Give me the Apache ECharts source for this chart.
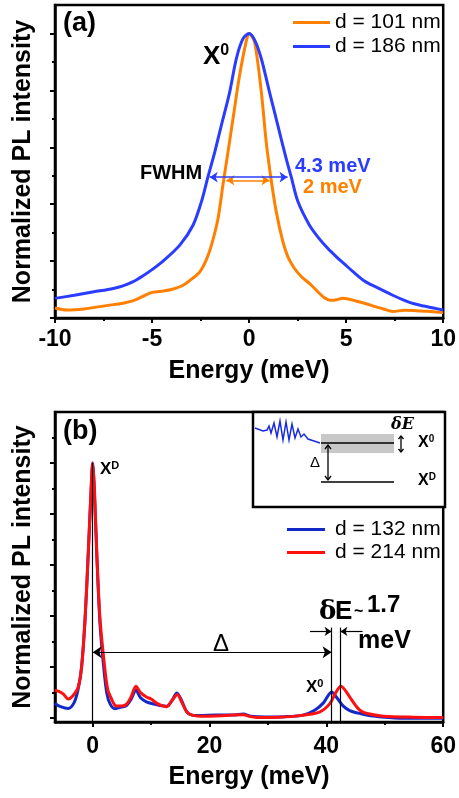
<!DOCTYPE html>
<html>
<head>
<meta charset="utf-8">
<script src="https://cdn.jsdelivr.net/npm/echarts@6/dist/echarts.min.js"></script>
<style>
html,body{margin:0;padding:0;background:#fff;}
#main{width:459px;height:798px;}
</style>
</head>
<body>
<div id="main"></div>
<script>
// panel (a): energy (meV) / normalized intensity
var energyA101 = [-10,-9.4,-8.5,-7.7,-7,-6.5,-6,-5.5,-5,-4.4,-4,-3.4,-2.9,-2.54,-2.2,-1.94,-1.6,-1.35,-1.14,-0.83,-0.49,-0.14,0,0.28,0.63,0.88,1.14,1.4,1.74,2.0,2.34,2.7,3.2,3.6,3.9,4.2,4.5,4.8,5.1,5.5,5.94,6.5,7,7.4,8,8.5,9,9.5,10];
var valueA101  = [0.035,0.028,0.032,0.04,0.047,0.052,0.06,0.075,0.09,0.095,0.10,0.115,0.14,0.162,0.205,0.256,0.35,0.467,0.56,0.70,0.853,0.975,1.0,0.97,0.794,0.619,0.484,0.373,0.268,0.215,0.174,0.145,0.116,0.088,0.07,0.062,0.064,0.069,0.067,0.06,0.052,0.04,0.03,0.023,0.027,0.026,0.024,0.022,0.019];
var energyA186 = [-10,-9,-8,-7,-6.5,-6,-5.5,-5,-4.43,-3.57,-2.89,-2.46,-2.12,-1.77,-1.43,-1.0,-0.66,-0.32,0,0.3,0.63,1.05,1.48,1.91,2.17,2.51,3.11,3.6,4.05,4.5,4.91,5.4,5.94,6.5,7.4,8,8.5,9,9.5,10];
var valueA186  = [0.069,0.08,0.092,0.104,0.113,0.127,0.147,0.17,0.2,0.256,0.326,0.408,0.496,0.583,0.677,0.794,0.911,0.981,1.0,0.975,0.911,0.794,0.677,0.56,0.496,0.41,0.326,0.28,0.245,0.215,0.19,0.16,0.13,0.11,0.08,0.062,0.05,0.042,0.035,0.028];

// panel (b)
var energyB132 = [-6.45,-5.5,-4.2,-3.2,-2.5,-1.9,-1.3,-0.75,-0.3,0,0.3,0.7,1.25,1.8,2.4,3.0,3.8,4.6,5.8,6.6,7.4,8.2,9.2,10.5,11.5,12.7,13.6,14.4,15.2,16.1,17,18.4,21,24,25.8,27,29.5,33,36,38,39.5,40.9,41.8,42.9,44,45.8,48,52.6,56,60];
var valueB132  = [0.057,0.045,0.038,0.06,0.113,0.2,0.39,0.65,0.88,1.0,0.88,0.64,0.37,0.22,0.1,0.055,0.037,0.042,0.05,0.075,0.11,0.08,0.064,0.055,0.05,0.047,0.07,0.099,0.07,0.025,0.012,0.01,0.012,0.012,0.016,0.008,0.005,0.006,0.012,0.031,0.06,0.103,0.08,0.047,0.03,0.018,0.008,0.0,0.0,0.0];
var energyB214 = [-6.45,-5.8,-5,-4.2,-3.5,-2.5,-1.9,-1.3,-0.75,-0.3,0,0.3,0.7,1.25,2.1,2.6,3.25,3.8,4.1,5,5.8,6.6,7.4,8.2,9.2,10,11,12,12.7,13.6,14.5,15.3,16.1,17,18.4,21,24,25.8,27,28,32,35.5,38.9,40.6,41.6,42.5,43.2,44,45,45.8,47,49.7,55,60];
var valueB214  = [0.11,0.105,0.094,0.075,0.085,0.12,0.2,0.39,0.65,0.88,1.0,0.9,0.65,0.39,0.19,0.11,0.074,0.05,0.048,0.048,0.055,0.085,0.125,0.1,0.083,0.075,0.058,0.048,0.045,0.07,0.093,0.06,0.025,0.012,0.008,0.009,0.012,0.013,0.006,0.003,0.004,0.01,0.025,0.057,0.1,0.125,0.11,0.083,0.05,0.03,0.018,0.008,0.004,0.003];

var namesA = ['d = 101 nm','d = 186 nm'];
var namesB = ['d = 132 nm','d = 214 nm'];
var ticksAxMajor = [0,0.2,0.4,0.6,0.8,1.0];
var ticksAxMinor = [0.1,0.3,0.5,0.7,0.9];
var ticksByMajor = [0,0.2,0.4,0.6,0.8,1.0];
var ticksByMinor = [0.1,0.3,0.5,0.7,0.9,1.1];
var ticksBxMajor = [0,20,40,60];
var ticksBxMinor = [10,30,50];

var FONT = 'Liberation Sans, Arial, sans-serif';
var SERIF = 'DejaVu Serif, Liberation Serif, serif';

function zip(xs, ys){
    var out=[];
    for(var i=0;i<xs.length;i++){ out.push([xs[i], ys[i]]); }
    return out;
}

var chart = echarts.init(document.getElementById('main'), null, {renderer:'canvas'});

var axisLabelStyle = {fontFamily:FONT, fontWeight:'bold', fontSize:23, color:'#000'};
var nameStyle = {fontFamily:FONT, fontWeight:'bold', fontSize:25, color:'#000'};
var lineAx = {onZero:false, lineStyle:{color:'#000', width:2.5}};
var tickLine = {color:'#000', width:2};

function yMajor(grid, min, max, major){
    return {
        gridIndex:grid, type:'value', min:min, max:max, position:'left',
        name:'Normalized PL intensity', nameLocation:'middle', nameGap:19, nameRotate:90,
        nameTextStyle:nameStyle,
        axisLine:lineAx, splitLine:{show:false},
        axisTick:{show:true, length:5, lineStyle:tickLine, customValues:major},
        axisLabel:{show:false}
    };
}
function yMinor(grid, min, max, minor){
    return {
        gridIndex:grid, type:'value', min:min, max:max, position:'left',
        axisLine:{show:false, onZero:false}, splitLine:{show:false},
        axisTick:{show:true, length:3, lineStyle:tickLine, customValues:minor},
        axisLabel:{show:false}
    };
}
// superscript label, e.g. X^0
function supText(left, top, base, sup, size){
    return {type:'text', left:left, top:top, style:{text:'{b|'+base+'}{s|'+sup+'}', rich:{
        b:{font:'bold '+size+'px '+FONT, fill:'#000'},
        s:{font:'bold '+Math.round(size*0.62)+'px '+FONT, fill:'#000', padding:[0,0,Math.round(size*0.42),0]}}}};
}

var option = {
    animation:false,
    backgroundColor:'#fff',
    grid:[
        {left:55, right:14, top:5, bottom:480, show:true, borderColor:'#000', borderWidth:2.5},
        {left:55, right:14, top:412, bottom:76, show:true, borderColor:'#000', borderWidth:2.5}
    ],
    legend:[
        {data:namesA, orient:'vertical', left:293, top:12, padding:0, itemWidth:37, itemHeight:3, icon:'rect', itemGap:3,
         textStyle:{fontFamily:FONT, fontSize:21, color:'#000'}},
        {data:namesB, orient:'vertical', left:287, top:519, padding:0, itemWidth:38, itemHeight:3, icon:'rect', itemGap:2,
         textStyle:{fontFamily:FONT, fontSize:21, color:'#000', padding:[0,0,0,5]}}
    ],
    xAxis:[
        {gridIndex:0, type:'value', min:-10, max:10, interval:5,
         name:'Energy (meV)', nameLocation:'middle', nameGap:41, nameTextStyle:nameStyle,
         axisLine:lineAx, splitLine:{show:false},
         axisTick:{length:5, lineStyle:tickLine},
         minorTick:{show:true, splitNumber:2, length:3, lineStyle:tickLine},
         axisLabel:Object.assign({margin:10}, axisLabelStyle)},
        {gridIndex:1, type:'value', min:-6.45, max:60,
         name:'Energy (meV)', nameLocation:'middle', nameGap:43, nameTextStyle:nameStyle,
         axisLine:lineAx, splitLine:{show:false},
         axisTick:{length:5, lineStyle:tickLine, customValues:ticksBxMajor},
         axisLabel:Object.assign({customValues:ticksBxMajor, margin:13}, axisLabelStyle)},
        {gridIndex:1, type:'value', min:-6.45, max:60, position:'bottom',
         axisLine:{show:false, onZero:false}, splitLine:{show:false},
         axisTick:{length:3, lineStyle:tickLine, customValues:ticksBxMinor},
         axisLabel:{show:false}}
    ],
    yAxis:[
        yMajor(0, 0, 1.1, ticksAxMajor),
        yMinor(0, 0, 1.1, ticksAxMinor),
        yMajor(1, -0.015, 1.2, ticksByMajor),
        yMinor(1, -0.015, 1.2, ticksByMinor)
    ],
    series:[
        {name:namesA[0], type:'line', xAxisIndex:0, yAxisIndex:0, data:zip(energyA101, valueA101),
         smooth:0.3, showSymbol:false, color:'#ff8000', lineStyle:{width:3},
         markLine:{silent:true, label:{show:false}, lineStyle:{color:'#ff8000', width:1.5, type:'solid'},
            data:[[{coord:[-1.17,0.484], symbol:'arrow', symbolSize:8},{coord:[1.05,0.484], symbol:'arrow', symbolSize:8}]]}},
        {name:namesA[1], type:'line', xAxisIndex:0, yAxisIndex:0, data:zip(energyA186, valueA186),
         smooth:0.3, showSymbol:false, color:'#2a3cff', lineStyle:{width:3},
         markLine:{silent:true, label:{show:false}, lineStyle:{color:'#2a3cff', width:1.5, type:'solid'},
            data:[[{coord:[-2.03,0.495], symbol:'arrow', symbolSize:8},{coord:[1.98,0.495], symbol:'arrow', symbolSize:8}]]}},
        {name:namesB[0], type:'line', xAxisIndex:1, yAxisIndex:2, data:zip(energyB132, valueB132),
         smooth:0.3, showSymbol:false, color:'#1428c8', lineStyle:{width:3}},
        {name:namesB[1], type:'line', xAxisIndex:1, yAxisIndex:2, data:zip(energyB214, valueB214),
         smooth:0.3, showSymbol:false, color:'#ff1010', lineStyle:{width:3},
         markLine:{silent:true, label:{show:false}, lineStyle:{color:'#000', width:1.2, type:'solid'},
            data:[
                [{coord:[0,1.0], symbol:'none'},{coord:[0,-0.015], symbol:'none'}],
                [{coord:[40.9,0.355], symbol:'none'},{coord:[40.9,-0.015], symbol:'none'}],
                [{coord:[42.4,0.355], symbol:'none'},{coord:[42.4,-0.015], symbol:'none'}],
                [{coord:[0,0.258], symbol:'arrow', symbolSize:9},{coord:[40.9,0.258], symbol:'arrow', symbolSize:9}],
                [{coord:[37.2,0.34], symbol:'none'},{coord:[40.9,0.34], symbol:'arrow', symbolSize:7}],
                [{coord:[46.2,0.34], symbol:'none'},{coord:[42.4,0.34], symbol:'arrow', symbolSize:7}]
            ]}}
    ],
    graphic:[
        // panel (a) annotations
        {type:'text', left:63, top:10, style:{text:'(a)', font:'bold 27px '+FONT, fill:'#000'}},
        supText(203, 43, 'X', '0', 26),
        {type:'text', left:140, top:163, style:{text:'FWHM', font:'bold 20px '+FONT, fill:'#000'}},
        {type:'text', left:295, top:156, style:{text:'4.3 meV', font:'bold 20px '+FONT, fill:'#2a3cff'}},
        {type:'text', left:303, top:177, style:{text:'2 meV', font:'bold 20px '+FONT, fill:'#ff8000'}},
        // panel (b) annotations
        {type:'text', left:63, top:418, style:{text:'(b)', font:'bold 27px '+FONT, fill:'#000'}},
        supText(100, 460, 'X', 'D', 17),
        {type:'text', left:213, top:632, style:{text:'Δ', font:'24px '+FONT, fill:'#000'}},
        supText(306, 678, 'X', '0', 17),
        {type:'text', left:319, top:599, style:{text:'δ', font:'bold 26px '+SERIF, fill:'#000'}},
        {type:'text', left:335, top:599, style:{text:'E', font:'bold 26px '+FONT, fill:'#000'}},
        {type:'text', left:354, top:604, style:{text:'~', font:'bold 16px '+FONT, fill:'#000'}},
        {type:'text', left:367, top:593, style:{text:'1.7', font:'bold 24px '+FONT, fill:'#000'}},
        {type:'text', left:358, top:629, style:{text:'meV', font:'bold 25px '+FONT, fill:'#000'}},
        // inset level scheme
        {type:'rect', shape:{x:253, y:412, width:192, height:95}, style:{fill:'#fff', stroke:'#000', lineWidth:2.5}},
        {type:'polyline', shape:{points:[[255,428],[263,431],[267,430],[269,426],[271,433],[274,423],[277,437],[280,421],[283,440],[286,422],[289,440],[292,424],[295,438],[298,429],[301,437],[304,434],[308,439],[314,441],[320,443]]},
         style:{stroke:'#1a2ae0', lineWidth:1.5, fill:null}},
        {type:'rect', shape:{x:321, y:434, width:73, height:19}, style:{fill:'#c8c8c8'}},
        {type:'line', shape:{x1:321, y1:443, x2:394, y2:443}, style:{stroke:'#000', lineWidth:1.5}},
        {type:'line', shape:{x1:321, y1:482, x2:394, y2:482}, style:{stroke:'#000', lineWidth:1.5}},
        {type:'line', shape:{x1:328, y1:445, x2:328, y2:480}, style:{stroke:'#000', lineWidth:1.3}},
        {type:'polyline', shape:{points:[[325,449],[328,445],[331,449]]}, style:{stroke:'#000', lineWidth:1.3, fill:null}},
        {type:'polyline', shape:{points:[[325,476],[328,480],[331,476]]}, style:{stroke:'#000', lineWidth:1.3, fill:null}},
        {type:'text', left:310, top:455, style:{text:'Δ', font:'15px '+FONT, fill:'#000'}},
        {type:'text', left:391, top:417, style:{text:'δE', font:'italic bold 16px '+SERIF, fill:'#000'}},
        {type:'line', shape:{x1:401, y1:436, x2:401, y2:452}, style:{stroke:'#000', lineWidth:1.3}},
        {type:'polyline', shape:{points:[[398.5,439],[401,436],[403.5,439]]}, style:{stroke:'#000', lineWidth:1.3, fill:null}},
        {type:'polyline', shape:{points:[[398.5,449],[401,452],[403.5,449]]}, style:{stroke:'#000', lineWidth:1.3, fill:null}},
        supText(418, 434, 'X', '0', 16),
        supText(418, 472, 'X', 'D', 16)
    ]
};

chart.setOption(option);
</script>
</body>
</html>
